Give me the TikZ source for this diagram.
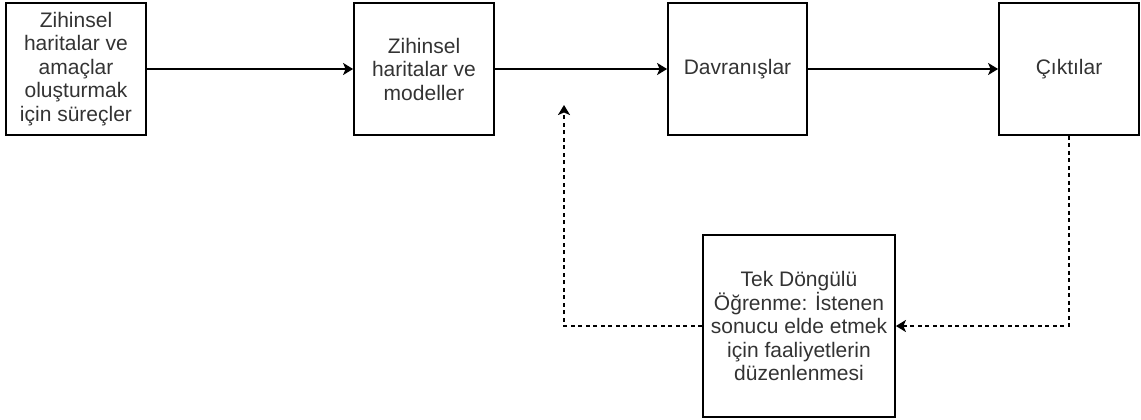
\documentclass[tikz,border=0pt]{standalone}
\usepackage{fontspec}
\setmainfont{Liberation Sans}
\usetikzlibrary{arrows.meta}
\definecolor{txt}{HTML}{333333}
\tikzset{
  box/.style={draw=black, line width=1.8pt, rectangle, align=center, text=txt,
    font=\fontsize{21}{23.5}\selectfont, inner sep=0pt},
  conn/.style={line width=1.8pt, -{Stealth[length=10pt,width=12pt,inset=2.5pt]}},
  fb/.style={conn, dash pattern=on 4pt off 3.5pt}
}
\begin{document}
\begin{tikzpicture}[x=1pt,y=-1pt]
\useasboundingbox (0,0) rectangle (1141,420);
\node[box, minimum width=140pt, minimum height=132pt] (a) at (76,69)
  {Zihinsel\\haritalar ve\\amaçlar\\oluşturmak\\için süreçler};
\node[box, minimum width=140pt, minimum height=132pt] (b) at (424,69)
  {Zihinsel\\haritalar ve\\modeller};
\node[box, minimum width=139pt, minimum height=132pt] (c) at (737.5,69)
  {Davranışlar};
\node[box, minimum width=140pt, minimum height=132pt] (d) at (1069,69)
  {Çıktılar};
\node[box, minimum width=192pt, minimum height=182pt] (e) at (799,326)
  {Tek Döngülü\\Öğrenme: İstenen\\sonucu elde etmek\\için faaliyetlerin\\düzenlenmesi};
\coordinate (f) at (564,105);
\draw[conn] (a) -- (b);
\draw[conn] (b) -- (c);
\draw[conn] (c) -- (d);
\draw[fb] (d.south) |- (e.east);
\draw[fb] (e.west) -| (f);
\end{tikzpicture}
\end{document}
